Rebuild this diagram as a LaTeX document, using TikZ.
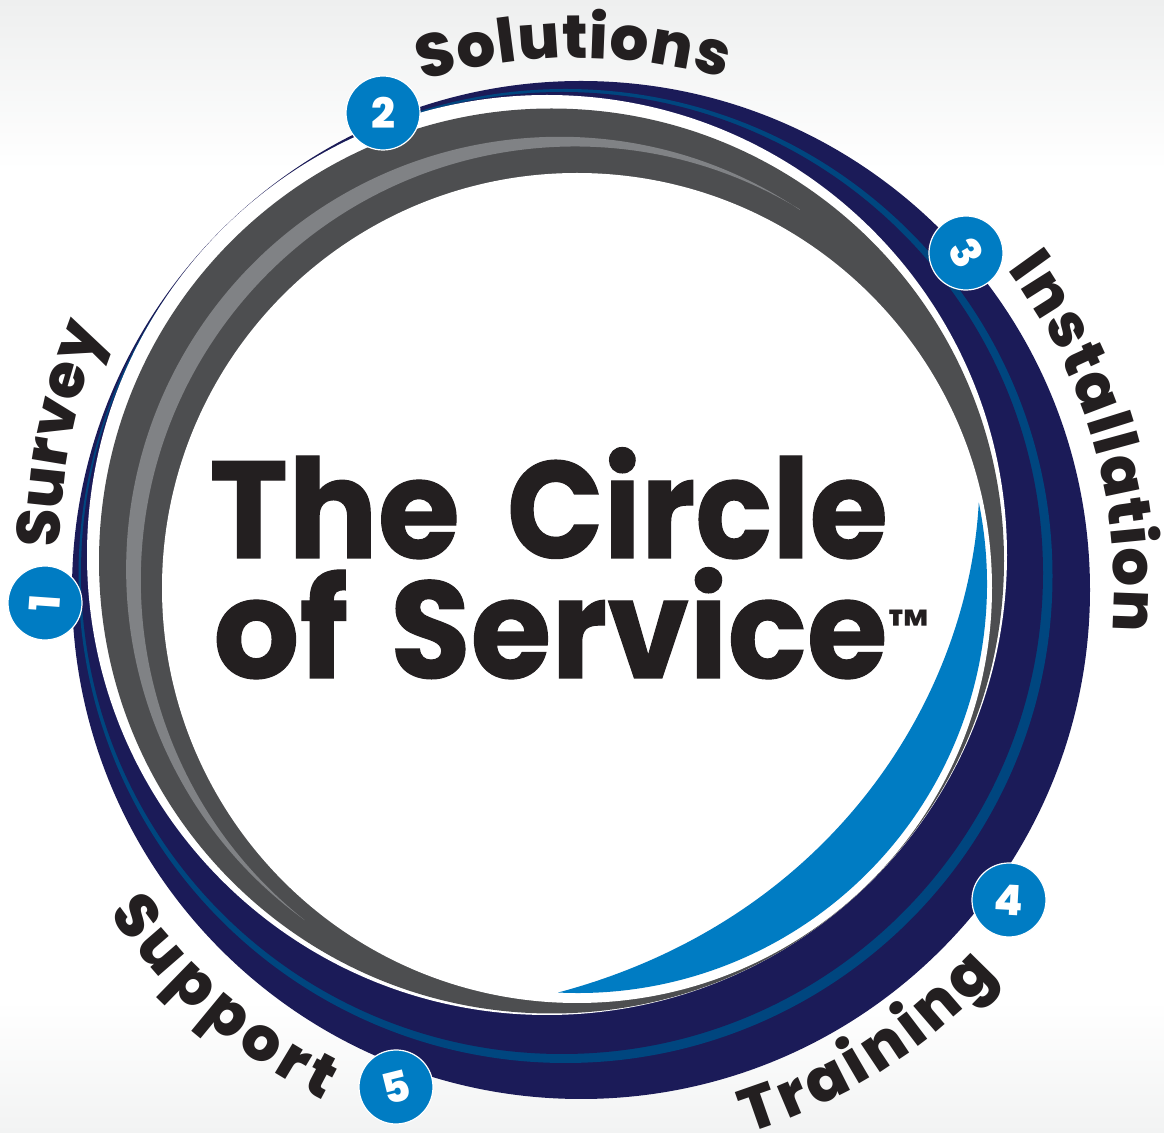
\documentclass[tikz,border=0pt]{standalone}
\usepackage{graphicx}
\usepackage{fontspec}
\usetikzlibrary{decorations.text}
\newfontfamily\blk{Poppins Bold}
\newfontfamily\blkt[FakeBold=0.8]{Poppins Bold}
\newfontfamily\xblk{Poppins ExtraBold}
\definecolor{navy}{HTML}{1B1B58}
\definecolor{stripe}{HTML}{00467F}
\definecolor{ringgray}{HTML}{4D4E50}
\definecolor{lightring}{HTML}{808285}
\definecolor{brand}{HTML}{007CC3}
\definecolor{ink}{HTML}{231F20}
\definecolor{bgtop}{HTML}{EEEFEF}
\definecolor{bgbot}{HTML}{F2F3F3}
\newcommand\lab{\xblk\fontsize{30.5}{31}\selectfont\color{ink}}
\tikzset{
  badge/.style={circle,fill=brand,draw=white,line width=0.6pt,minimum size=37pt,inner sep=0pt,text=white,font=\xblk\fontsize{21}{21}\selectfont},
  title/.style={anchor=base west,inner sep=0pt,text=ink,font=\blkt\fontsize{69}{69}\selectfont},
  arclabel/.style={decorate,decoration={text along path,text align={fit to path},text={|\lab|#1}}}
}
\begin{document}
\begin{tikzpicture}[x=0.5pt,y=-0.5pt]
\useasboundingbox (0,0) rectangle (1164,1133);
\fill[white] (0,0) rectangle (1164,1133);
\shade[top color=bgtop,bottom color=white] (0,0) rectangle (1164,170);
\shade[top color=white,bottom color=bgbot] (0,1000) rectangle (1164,1133);
% navy crescent and inner stripe
\fill[navy] (581,590) circle[radius=509];
\fill[stripe] (565.5,576) circle[radius=487];
\fill[navy] (562,573) circle[radius=481];
\fill[white] (547,555) circle[radius=460];
% gray ring
\fill[ringgray] (551.5,561) circle[radius=452.5];
\fill[lightring] (800,210) arc[start angle=-56.2,end angle=-234,radius=433] arc[start angle=-231.5,end angle=-58.75,radius=434] -- cycle;
\fill[white] (577,588) circle[radius=415];
% blue crescent
\fill[brand] (978.8,502.5) arc[start angle=-11.5,end angle=92.8,radius=409] .. controls (830,920) and (968,700) .. cycle;
% title
\node[title] (t1) at (209,558) {\scalebox{0.965}[1]{The}\hspace{23.5pt}\scalebox{0.92}[1]{Circle}};
\node[title] (t2) at (213,678) {\scalebox{0.98}[1]{of}\hspace{21pt}\scalebox{0.948}[1]{Service}};
\node[anchor=base west,inner sep=0pt,text=ink,font=\blk\fontsize{23}{23}\selectfont] (tm) at (888,643) {™};
% labels
\path[arclabel=Survey] (60,548) arc[start angle=180.5,end angle=201,radius=600];
\path[arclabel=Solutions] (578,590) ++(253:532) arc[start angle=253,end angle=286,radius=532];
\path[arclabel=Installation] (578,590) ++(-36.7:536) arc[start angle=-36.7,end angle=4.4,radius=536];
\path[arclabel=Training] (578,590) ++(72.6:569) arc[start angle=72.6,end angle=42.5,radius=569];
\path[arclabel=Support] (578,590) ++(145.5:570) arc[start angle=145.5,end angle=116.5,radius=570];
% badges
\node[badge,rotate=86] (n1) at (45,603) {1};
\node[badge] (n2) at (383,113) {2};
\node[badge,rotate=-60] (n3) at (966,253) {3};
\node[badge,rotate=-3] (n4) at (1009,900) {4};
\node[badge,rotate=14] (n5) at (396,1087) {5};
\end{tikzpicture}
\end{document}
